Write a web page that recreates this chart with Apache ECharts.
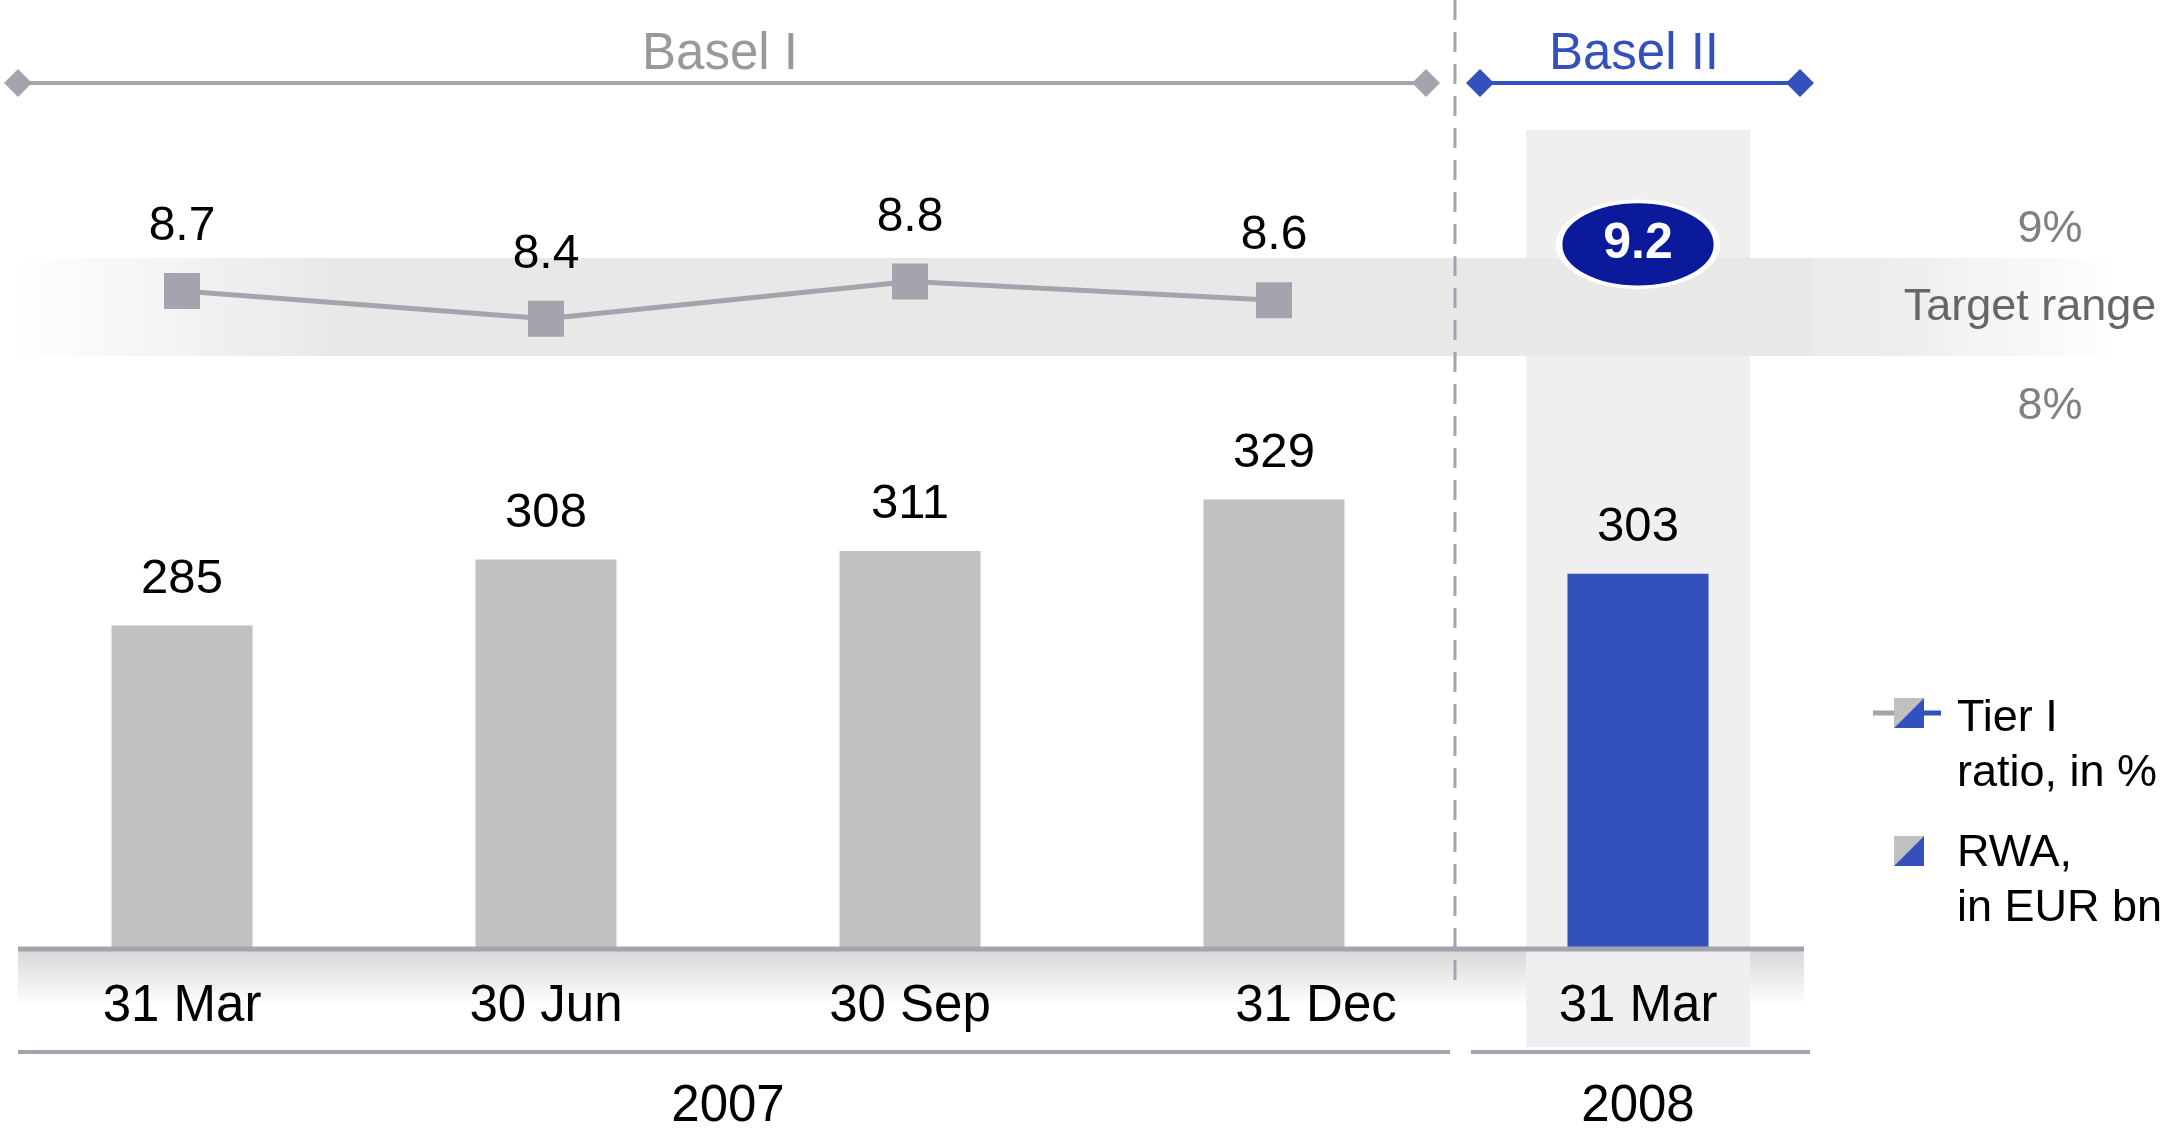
<!DOCTYPE html>
<html>
<head>
<meta charset="utf-8">
<script src="https://cdn.jsdelivr.net/npm/echarts@6/dist/echarts.min.js"></script>
<style>
  html, body { margin: 0; padding: 0; background: #fff; }
  #main { width: 2178px; height: 1128px; }
</style>
</head>
<body>
<div id="main"></div>
<script>
// data
const periods = ['31 Mar 2007', '30 Jun 2007', '30 Sep 2007', '31 Dec 2007', '31 Mar 2008'];
const tickLabels = ['31 Mar', '30 Jun', '30 Sep', '31 Dec', '31 Mar'];
const years = ['2007', '2008'];
const regimes = ['Basel I', 'Basel II'];
const rwa = [285, 308, 311, 329, 303];
const tierBasel1 = [8.7, 8.4, 8.8, 8.6, null];
const tierBasel2 = [null, null, null, null, 9.2];
const highlight = [null, null, null, null, 1];   // grey column behind 2008

const FONT = 'Liberation Sans, Arial, sans-serif';
const GREY = '#a4a4ae';
const BLUE = '#3350bc';

// layout
const gridLeft = 0, gridWidth = 1820;
const catW = gridWidth / periods.length;
const catX = i => gridLeft + catW * (i + 0.5);
const baseY = 949;
const ratioGrid = { top: 263, height: 93 };   // 9% .. 8%

let myChart = echarts.init(document.getElementById('main'));

function diamond(cx, cy, color) {
  return {
    type: 'polygon', z: 5,
    shape: { points: [[cx - 14, cy], [cx, cy - 14], [cx + 14, cy], [cx, cy + 14]] },
    style: { fill: color }
  };
}
function hline(x1, x2, y, color, w, z) {
  return { type: 'line', z: z || 4, shape: { x1: x1, y1: y, x2: x2, y2: y }, style: { stroke: color, lineWidth: w } };
}
function txt(x, y, s, color, size, align, extra) {
  return {
    type: 'text', z: 6,
    style: Object.assign({
      x: x, y: y, text: s, fill: color, font: size + 'px ' + FONT,
      align: align || 'center', verticalAlign: 'middle'
    }, extra || {})
  };
}

const split = Math.round(gridLeft + 4 * catW);   // Basel I / Basel II boundary
const bandTop = 258, bandH = 98;

const graphics = [
  // target range band
  {
    type: 'rect', z: 3, silent: true,
    shape: { x: 10, y: bandTop, width: 1802, height: bandH },
    style: { fill: new echarts.graphic.LinearGradient(0, 0, 1, 0, [
      { offset: 0, color: '#ffffff' }, { offset: 0.18, color: '#e8e8e8' }, { offset: 1, color: '#e8e8e8' }]) }
  },
  {
    type: 'rect', z: 3, silent: true,
    shape: { x: 1812, y: bandTop, width: 366, height: bandH },
    style: { fill: new echarts.graphic.LinearGradient(0, 0, 1, 0, [
      { offset: 0, color: '#ebebeb' }, { offset: 0.15, color: '#ebebeb' }, { offset: 0.85, color: '#ffffff' }]) }
  },
  // x axis strip
  {
    type: 'rect', z: 1, silent: true,
    shape: { x: 18, y: baseY + 2, width: 1786, height: 99 },
    style: { fill: new echarts.graphic.LinearGradient(0, 0, 0, 1, [
      { offset: 0, color: '#d8d8d8' }, { offset: 0.55, color: '#ffffff' }, { offset: 1, color: '#ffffff' }]) }
  },
  hline(18, 1804, baseY, GREY, 5),
  hline(18, split - 6, 1052, GREY, 4),
  hline(split + 15, 1810, 1052, GREY, 4),
  // Basel I / II divider
  {
    type: 'line', z: 4,
    shape: { x1: split - 1, y1: 0, x2: split - 1, y2: 992 },
    style: { stroke: GREY, lineWidth: 3, lineDash: [20, 12] }
  },
  // regime headers
  hline(18, 1426, 83, GREY, 4),
  diamond(18, 83, GREY), diamond(1426, 83, GREY),
  hline(1480, 1800, 83, BLUE, 4),
  diamond(1480, 83, BLUE), diamond(1800, 83, BLUE),
  txt(720, 55, regimes[0], '#999999', 51),
  txt(1634, 55, regimes[1], BLUE, 51),
  // years
  txt((catX(0) + catX(3)) / 2, 1107, years[0], '#000', 51),
  txt(catX(4), 1107, years[1], '#000', 51),
  // target range labels
  txt(2050, 230, '9%', '#808080', 45),
  txt(2030, 308, 'Target range', '#666666', 45),
  txt(2050, 407, '8%', '#808080', 45),
  // legend
  hline(1873, 1896, 713, GREY, 5),
  hline(1922, 1941, 713, BLUE, 5),
  { type: 'polygon', z: 5, shape: { points: [[1894, 698], [1924, 698], [1894, 728]] }, style: { fill: '#c0c0c0' } },
  { type: 'polygon', z: 5, shape: { points: [[1924, 698], [1924, 728], [1894, 728]] }, style: { fill: BLUE } },
  { type: 'polygon', z: 5, shape: { points: [[1894, 836], [1924, 836], [1894, 866]] }, style: { fill: '#c0c0c0' } },
  { type: 'polygon', z: 5, shape: { points: [[1924, 836], [1924, 866], [1894, 866]] }, style: { fill: BLUE } },
  txt(1957, 691, 'Tier I\nratio, in %', '#000', 45, 'left', { verticalAlign: 'top', lineHeight: 55 }),
  txt(1957, 826, 'RWA,\nin EUR bn', '#000', 45, 'left', { verticalAlign: 'top', lineHeight: 55 })
];

myChart.setOption({
  backgroundColor: '#fff',
  animation: false,
  textStyle: { fontFamily: FONT },
  grid: [
    { left: gridLeft, width: gridWidth, top: 130, height: baseY - 130 },          // bars
    { left: gridLeft, width: gridWidth, top: ratioGrid.top, height: ratioGrid.height }, // tier I ratio
    { left: gridLeft, width: gridWidth, top: 130, height: 1047 - 130 }            // 2008 highlight column
  ],
  xAxis: [
    {
      type: 'category', gridIndex: 0, z: 8,
      // the 31 Dec label sits a little right of its bar in the original
      data: periods.map((p, i) => i === 3 ? { value: p, textStyle: { padding: [0, 0, 0, 84] } } : p),
      axisLine: { show: false }, axisTick: { show: false },
      axisLabel: {
        formatter: (v, i) => tickLabels[i],
        fontSize: 51, color: '#000', lineHeight: 60, margin: 28, interval: 0
      }
    },
    { type: 'category', gridIndex: 1, data: periods, show: false },
    { type: 'category', gridIndex: 2, data: periods, show: false }
  ],
  yAxis: [
    { type: 'value', gridIndex: 0, min: 172, max: 458, show: false },
    { type: 'value', gridIndex: 1, min: 8, max: 9, show: false },
    { type: 'value', gridIndex: 2, min: 0, max: 1, show: false }
  ],
  series: [
    {
      name: 'highlight', type: 'bar', xAxisIndex: 2, yAxisIndex: 2,
      data: highlight, barWidth: 224, silent: true, z: 2,
      itemStyle: { color: '#efefef' }
    },
    {
      name: 'RWA, in EUR bn', type: 'bar', xAxisIndex: 0, yAxisIndex: 0, z: 3,
      data: rwa.map((v, i) => ({ value: v, itemStyle: { color: i < 4 ? '#c0c0c0' : BLUE } })),
      barWidth: 141,
      label: { show: true, position: 'top', distance: 21, fontSize: 49, lineHeight: 50, color: '#000' }
    },
    {
      name: 'Tier I ratio, in %', type: 'line', xAxisIndex: 1, yAxisIndex: 1, z: 5, clip: false,
      data: tierBasel1,
      symbol: 'rect', symbolSize: 36,
      itemStyle: { color: GREY },
      lineStyle: { color: GREY, width: 5 },
      label: { show: true, position: 'top', distance: 21, fontSize: 48, lineHeight: 50, color: '#000',
        formatter: p => p.value.toFixed(1) }
    },
    {
      name: 'Tier I ratio Basel II', type: 'line', xAxisIndex: 1, yAxisIndex: 1, z: 6, clip: false,
      data: tierBasel2,
      symbol: 'path://M0,50 A100,50 0 1,1 200,50 A100,50 0 1,1 0,50 Z',
      symbolSize: [158, 86],
      itemStyle: { color: '#0a1a9a', borderColor: '#fff', borderWidth: 5 },
      label: { show: true, position: 'inside', fontSize: 50, fontWeight: 'bold', color: '#fff',
        formatter: p => p.value.toFixed(1) }
    }
  ],
  graphic: graphics
});
</script>
</body>
</html>
